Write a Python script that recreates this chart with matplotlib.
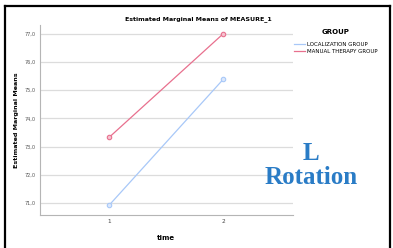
import matplotlib.pyplot as plt
from matplotlib.lines import Line2D

# ---- data ----
time = [1, 2]
localization = [70.93, 75.39]
manual_therapy = [73.33, 77.0]
y_ticks = [71, 72, 73, 74, 75, 76, 77]
y_labels = ["71,0", "72,0", "73,0", "74,0", "75,0", "76,0", "77,0"]

blue = "#a8c8f8"
pink = "#e8708e"

fig = plt.figure(figsize=(3.93, 2.48), dpi=100)
ax = fig.add_axes([0.102, 0.133, 0.644, 0.766])

ax.plot(time, localization, color=blue, lw=0.9, marker="o", ms=3.2,
        mfc="#dbe8fc", mec=blue, mew=0.8, label="LOCALIZATION GROUP")
ax.plot(time, manual_therapy, color=pink, lw=0.9, marker="o", ms=3.2,
        mfc="#f6c3d0", mec=pink, mew=0.8, label="MANUAL THERAPY GROUP")

ax.set_xlim(0.395, 2.61)
ax.set_ylim(70.58, 77.3)
ax.set_xticks(time)
ax.set_xticklabels(["1", "2"], fontsize=4.2, color="#444444")
ax.set_yticks(y_ticks)
ax.set_yticklabels(y_labels, fontsize=3.6, color="#555555")
ax.tick_params(length=0, pad=3)
ax.grid(axis="y", color="#dcdcdc", lw=0.9)
ax.set_axisbelow(True)
for s in ["top", "right"]:
    ax.spines[s].set_visible(False)
for s in ["left", "bottom"]:
    ax.spines[s].set_color("#b5b5b5")
    ax.spines[s].set_linewidth(0.8)

fig.text(0.504, 0.923, "Estimated Marginal Means of MEASURE_1",
         ha="center", va="center", fontsize=4.5, fontweight="bold")
fig.text(0.043, 0.516, "Estimated Marginal Means", rotation=90,
         ha="center", va="center", fontsize=4.6, fontweight="bold")
fig.text(0.423, 0.04, "time", ha="center", va="center",
         fontsize=5.0, fontweight="bold")

leg = ax.legend(loc="upper left", bbox_to_anchor=(0.735, 0.905),
                bbox_transform=fig.transFigure, frameon=False,
                title="GROUP", fontsize=4.0, handlelength=2.0,
                handletextpad=0.3, labelspacing=0.45)
leg.get_title().set_fontsize(5.0)
leg.get_title().set_fontweight("bold")
leg._legend_box.align = "center"
leg._legend_box.sep = 5
for h in leg.get_lines():
    h.set_marker("")

fig.text(0.792, 0.333, "L\nRotation", ha="center", va="center",
         fontsize=18, fontweight="bold", color="#2a7cc6",
         family="Liberation Serif", linespacing=1.1)

# black frame round the picture (no bottom edge)
for xs, ys in [([0.013, 0.013], [-0.05, 0.976]),
               ([0.013, 0.993], [0.976, 0.976]),
               ([0.993, 0.993], [0.976, -0.05])]:
    fig.add_artist(Line2D(xs, ys, color="black", lw=1.6,
                          transform=fig.transFigure))

fig.savefig("out.png", dpi=100)
